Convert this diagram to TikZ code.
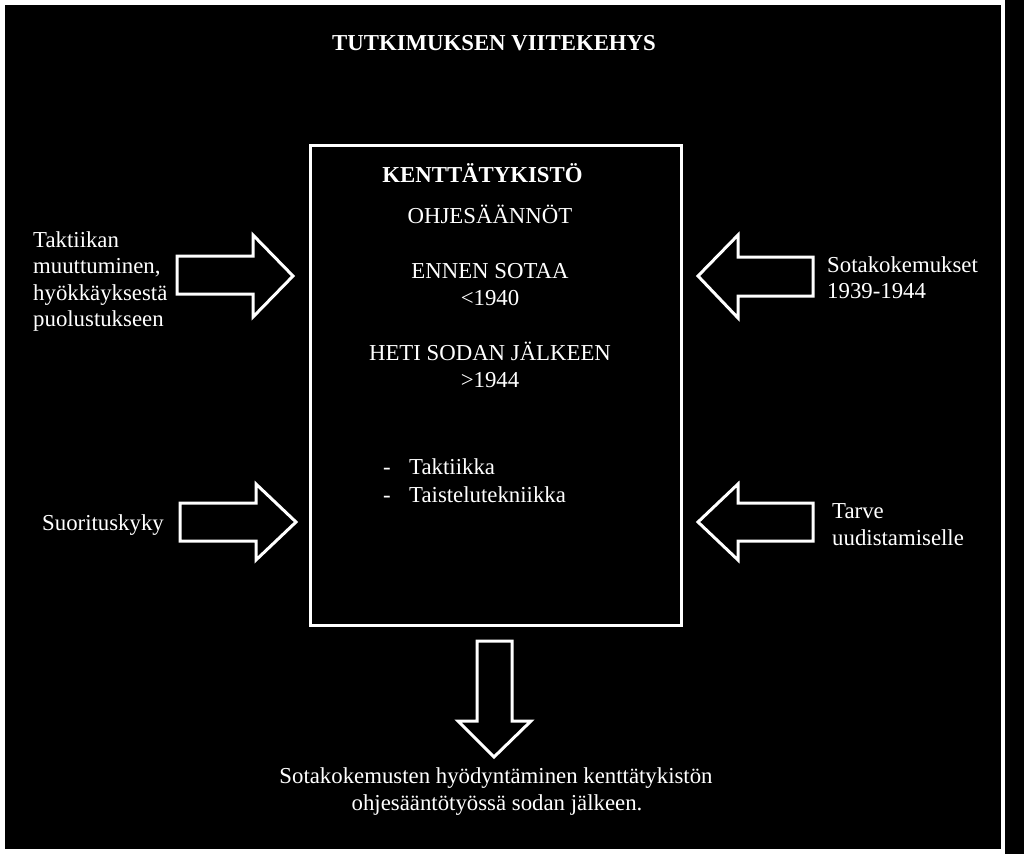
\documentclass[tikz,border=0pt]{standalone}
\usepackage{fontspec}
\setmainfont{Liberation Serif}
\begin{document}
\begin{tikzpicture}[x=1pt,y=-1pt,
  txt/.style={text=white,inner sep=0pt,font=\fontsize{22.8}{27.4}\selectfont},
  ttl/.style={text=white,inner sep=0pt,font=\fontsize{22.8}{27.4}\selectfont\bfseries},
  blk/.style={draw=white,line width=3pt,fill=black,line join=miter}]
\fill[white] (0,0) rectangle (1024,854);
\useasboundingbox (0,0) rectangle (1024,854);
\fill[black] (5,5) rectangle (1001,849);
\fill[black] (1005,0) rectangle (1024,854);
% central box
\node[draw=white, line width=3pt, minimum width=371pt, minimum height=480pt, inner sep=0pt] (box) at (495.5,385) {};
% title
\node[ttl,anchor=base] (title) at (494,50) {TUTKIMUKSEN VIITEKEHYS};
% box contents
\node[ttl,anchor=base] (kt) at (482.5,182) {KENTTÄTYKISTÖ};
\node[txt,anchor=base] (oh) at (490,223) {OHJESÄÄNNÖT};
\node[txt,anchor=base] (en) at (490,278) {ENNEN SOTAA};
\node[txt,anchor=base] (en2) at (490,305) {<1940};
\node[txt,anchor=base] (he) at (490,360) {HETI SODAN JÄLKEEN};
\node[txt,anchor=base] (he2) at (490,387) {>1944};
\node[txt,anchor=base west] (d1) at (383,474) {-};
\node[txt,anchor=base west] (t1) at (409,474) {Taktiikka};
\node[txt,anchor=base west] (d2) at (383,502) {-};
\node[txt,anchor=base west] (t2) at (409,502) {Taistelutekniikka};
% left texts
\node[txt,anchor=base west] (l1) at (33,247) {Taktiikan};
\node[txt,anchor=base west] (l2) at (33,273.5) {muuttuminen,};
\node[txt,anchor=base west] (l3) at (33,300) {hyökkäyksestä};
\node[txt,anchor=base west] (l4) at (33,326.5) {puolustukseen};
\node[txt,anchor=base west] (s1) at (42,530) {Suorituskyky};
% right texts
\node[txt,anchor=base west] (r1) at (827,272) {Sotakokemukset};
\node[txt,anchor=base west] (r2) at (827,298.5) {1939-1944};
\node[txt,anchor=base west] (r3) at (832,518) {Tarve};
\node[txt,anchor=base west] (r4) at (832,545) {uudistamiselle};
% bottom text
\node[txt,anchor=base] (b1) at (496,783) {Sotakokemusten hyödyntäminen kenttätykistön};
\node[txt,anchor=base] (b2) at (497,810) {ohjesääntötyössä sodan jälkeen.};
% block arrows
\draw[blk] (177,256) -- (253,256) -- (253,235) -- (293,276) -- (253,317) -- (253,294) -- (177,294) -- cycle;
\draw[blk] (180,503) -- (256,503) -- (256,484) -- (296,522) -- (256,560) -- (256,541) -- (180,541) -- cycle;
\draw[blk] (813,257) -- (738,257) -- (738,235) -- (698,276) -- (738,318) -- (738,296) -- (813,296) -- cycle;
\draw[blk] (813,503) -- (738,503) -- (738,484) -- (698,522) -- (738,560) -- (738,541) -- (813,541) -- cycle;
\draw[blk] (477,641) -- (512,641) -- (512,721) -- (531,721) -- (494,757) -- (458,721) -- (477,721) -- cycle;
\end{tikzpicture}
\end{document}
